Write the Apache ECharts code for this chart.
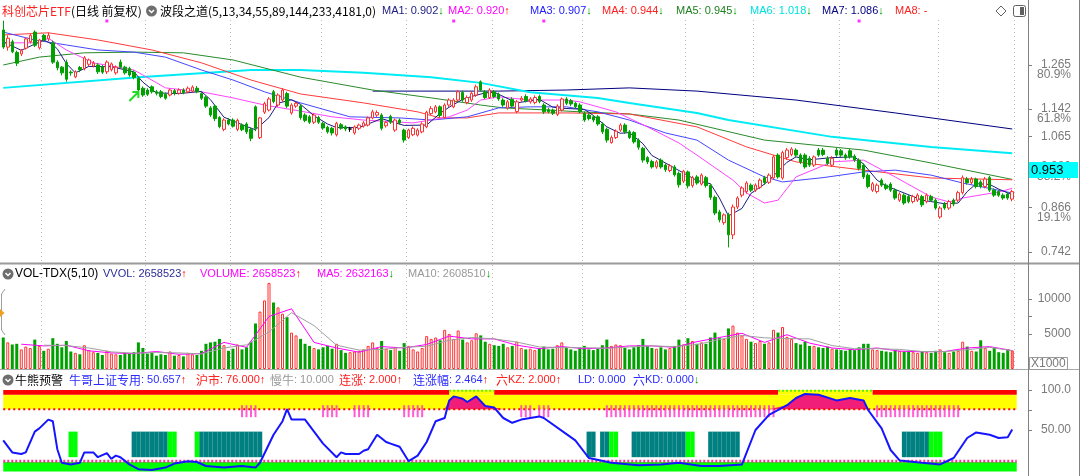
<!DOCTYPE html>
<html><head><meta charset="utf-8">
<script src="https://cdn.jsdelivr.net/npm/echarts@6.0.0/dist/echarts.min.js"></script>
<style>html,body{margin:0;padding:0;background:#fff}#c{width:1080px;height:476px}</style>
</head><body><div id="c"></div><script>
// ---------------- DATA ----------------
const ohlc = [
[1.363,1.315,1.310,1.389],[1.315,1.340,1.305,1.348],[1.330,1.302,1.298,1.336],[1.300,1.270,1.262,1.305],[1.296,1.305,1.290,1.310],
[1.312,1.338,1.308,1.342],[1.330,1.348,1.325,1.352],[1.357,1.320,1.315,1.362],[1.313,1.335,1.308,1.338],[1.348,1.335,1.330,1.352],
[1.338,1.348,1.332,1.356],[1.327,1.273,1.268,1.333],[1.273,1.257,1.250,1.278],[1.259,1.243,1.236,1.262],[1.272,1.225,1.218,1.280],
[1.245,1.243,1.235,1.250],[1.232,1.246,1.228,1.250],[1.258,1.252,1.245,1.262],[1.255,1.285,1.250,1.290],[1.267,1.279,1.262,1.283],
[1.262,1.270,1.258,1.276],[1.265,1.246,1.240,1.270],[1.260,1.245,1.240,1.265],[1.246,1.273,1.240,1.278],[1.252,1.268,1.247,1.272],
[1.243,1.259,1.238,1.264],[1.273,1.259,1.255,1.280],[1.259,1.243,1.238,1.263],[1.255,1.237,1.232,1.260],[1.245,1.230,1.225,1.250],
[1.228,1.195,1.190,1.232],[1.200,1.181,1.176,1.205],[1.195,1.183,1.178,1.200],[1.204,1.190,1.185,1.208],[1.190,1.186,1.180,1.195],
[1.190,1.177,1.172,1.195],[1.183,1.172,1.168,1.188],[1.181,1.195,1.177,1.199],[1.193,1.186,1.180,1.198],[1.186,1.195,1.182,1.200],
[1.195,1.188,1.183,1.200],[1.190,1.200,1.186,1.205],[1.192,1.203,1.188,1.208],[1.200,1.190,1.186,1.206],[1.185,1.172,1.167,1.190],
[1.175,1.150,1.145,1.178],[1.145,1.125,1.120,1.150],[1.150,1.115,1.108,1.154],[1.118,1.093,1.088,1.122],[1.085,1.111,1.080,1.116],
[1.111,1.100,1.096,1.117],[1.111,1.094,1.090,1.116],[1.085,1.110,1.080,1.115],[1.097,1.084,1.080,1.102],[1.100,1.078,1.072,1.105],
[1.085,1.060,1.052,1.090],[1.148,1.088,1.080,1.152],[1.062,1.117,1.058,1.120],[1.133,1.157,1.128,1.162],[1.139,1.170,1.135,1.175],
[1.190,1.163,1.158,1.195],[1.153,1.181,1.148,1.186],[1.167,1.195,1.162,1.200],[1.185,1.150,1.145,1.190],[1.131,1.153,1.126,1.158],
[1.150,1.158,1.145,1.162],[1.150,1.118,1.112,1.155],[1.125,1.110,1.105,1.130],[1.120,1.105,1.100,1.125],[1.105,1.125,1.100,1.130],
[1.118,1.105,1.100,1.123],[1.102,1.089,1.084,1.106],[1.091,1.078,1.073,1.095],[1.088,1.075,1.068,1.092],[1.070,1.102,1.065,1.106],
[1.098,1.088,1.084,1.103],[1.092,1.086,1.080,1.096],[1.086,1.086,1.078,1.092],[1.075,1.092,1.070,1.096],[1.088,1.097,1.083,1.101],
[1.094,1.103,1.090,1.108],[1.097,1.117,1.093,1.121],[1.117,1.134,1.113,1.140],[1.125,1.132,1.120,1.138],[1.125,1.088,1.082,1.130],
[1.095,1.104,1.090,1.108],[1.121,1.105,1.100,1.126],[1.083,1.111,1.078,1.115],[1.111,1.103,1.098,1.116],[1.083,1.055,1.048,1.087],
[1.062,1.083,1.058,1.087],[1.070,1.088,1.066,1.093],[1.069,1.083,1.065,1.088],[1.078,1.100,1.074,1.105],[1.092,1.133,1.088,1.137],
[1.129,1.143,1.125,1.150],[1.134,1.148,1.130,1.153],[1.148,1.124,1.118,1.152],[1.118,1.153,1.114,1.158],[1.153,1.167,1.148,1.172],
[1.148,1.167,1.144,1.172],[1.167,1.190,1.162,1.195],[1.188,1.167,1.162,1.193],[1.160,1.174,1.155,1.180],[1.167,1.186,1.162,1.191],
[1.181,1.204,1.176,1.210],[1.218,1.195,1.190,1.222],[1.190,1.174,1.170,1.195],[1.174,1.195,1.170,1.200],[1.190,1.177,1.172,1.195],
[1.183,1.170,1.165,1.188],[1.167,1.153,1.148,1.172],[1.145,1.162,1.140,1.167],[1.169,1.150,1.145,1.175],[1.135,1.162,1.130,1.167],
[1.167,1.172,1.162,1.178],[1.177,1.165,1.160,1.183],[1.162,1.170,1.157,1.175],[1.160,1.174,1.155,1.180],[1.177,1.163,1.158,1.182],
[1.153,1.134,1.128,1.158],[1.140,1.134,1.130,1.145],[1.139,1.130,1.125,1.143],[1.127,1.150,1.122,1.155],[1.139,1.170,1.135,1.174],
[1.170,1.158,1.153,1.175],[1.165,1.156,1.150,1.170],[1.158,1.148,1.144,1.162],[1.153,1.134,1.130,1.158],[1.130,1.111,1.106,1.135],
[1.125,1.115,1.110,1.130],[1.120,1.111,1.105,1.125],[1.120,1.100,1.095,1.125],[1.100,1.078,1.072,1.105],[1.085,1.055,1.048,1.090],
[1.048,1.062,1.045,1.068],[1.062,1.080,1.058,1.085],[1.083,1.097,1.078,1.102],[1.097,1.078,1.072,1.102],[1.078,1.062,1.058,1.083],
[1.076,1.050,1.045,1.080],[1.055,1.035,1.028,1.060],[1.032,0.999,0.992,1.036],[1.006,0.994,0.988,1.010],[0.995,0.980,0.975,1.000],
[0.980,0.994,0.975,0.999],[0.999,0.980,0.975,1.004],[0.985,0.972,0.966,0.990],[0.970,0.983,0.965,0.988],[0.980,0.958,0.953,0.985],
[0.962,0.930,0.922,0.967],[0.940,0.968,0.935,0.972],[0.966,0.927,0.920,0.970],[0.928,0.950,0.922,0.955],[0.952,0.935,0.930,0.957],
[0.932,0.957,0.928,0.962],[0.950,0.928,0.922,0.955],[0.929,0.895,0.888,0.933],[0.895,0.851,0.845,0.900],[0.854,0.832,0.825,0.860],
[0.824,0.846,0.818,0.850],[0.846,0.790,0.755,0.852],[0.790,0.868,0.778,0.875],[0.868,0.893,0.862,0.898],[0.901,0.921,0.895,0.926],
[0.911,0.935,0.905,0.940],[0.929,0.915,0.910,0.934],[0.915,0.929,0.910,0.934],[0.923,0.943,0.918,0.948],[0.950,0.936,0.930,0.955],
[0.937,0.957,0.932,0.962],[0.949,1.008,0.945,1.013],[1.013,0.952,0.947,1.018],[0.949,1.020,0.944,1.025],[1.006,1.027,1.000,1.033],
[1.015,1.030,1.010,1.035],[1.027,1.013,1.008,1.032],[1.013,0.994,0.988,1.018],[1.013,0.980,0.975,1.018],[1.004,0.985,0.980,1.010],
[0.985,1.008,0.980,1.012],[1.027,1.013,1.008,1.033],[1.027,1.015,1.010,1.033],[1.004,0.990,0.985,1.010],[0.985,1.004,0.980,1.010],
[1.027,1.013,1.008,1.033],[1.025,1.013,1.008,1.030],[1.013,1.005,1.000,1.018],[1.025,1.008,1.003,1.030],[1.010,0.999,0.994,1.015],
[0.999,0.976,0.970,1.004],[0.985,0.952,0.946,0.990],[0.957,0.925,0.920,0.962],[0.915,0.933,0.910,0.938],[0.911,0.929,0.906,0.934],
[0.943,0.929,0.924,0.948],[0.929,0.920,0.915,0.934],[0.932,0.915,0.910,0.937],[0.915,0.893,0.888,0.920],[0.887,0.904,0.882,0.909],
[0.901,0.879,0.874,0.906],[0.897,0.883,0.878,0.902],[0.883,0.897,0.878,0.902],[0.887,0.901,0.882,0.906],[0.897,0.874,0.868,0.902],
[0.883,0.901,0.878,0.906],[0.897,0.887,0.882,0.902],[0.887,0.865,0.860,0.892],[0.840,0.865,0.835,0.870],[0.877,0.865,0.860,0.882],
[0.865,0.883,0.860,0.888],[0.887,0.876,0.870,0.892],[0.887,0.908,0.882,0.913],[0.908,0.950,0.903,0.956],[0.946,0.936,0.930,0.952],
[0.936,0.946,0.931,0.952],[0.946,0.925,0.920,0.950],[0.938,0.925,0.920,0.943],[0.925,0.946,0.920,0.952],[0.950,0.915,0.910,0.955],
[0.915,0.901,0.896,0.920],[0.911,0.901,0.896,0.916],[0.901,0.893,0.888,0.906],[0.904,0.893,0.888,0.909],[0.890,0.911,0.884,0.916]
];
const volume = [
4500,3800,3500,3600,2800,3200,3000,4200,3300,2600,2900,
4400,3600,3100,4000,2500,2300,2100,3400,2700,2400,2300,2000,2600,2200,2100,2000,2300,2200,2400,3800,
3000,2200,2400,1900,2100,2000,2500,1900,2000,1800,2300,2100,2000,2600,3600,3800,3900,4300,3400,2600,2900,3500,2800,3100,3900,
6500,8200,9800,12300,9500,8800,7900,7400,5200,4800,
4300,3600,3300,3000,2800,3100,3300,2900,3600,2700,2300,2400,2500,2600,2800,3300,3800,3000,4000,2900,2700,3100,2600,3700,3300,2800,2500,3000,4700,4300,
4500,4100,5600,5000,4300,5500,4200,3800,4100,5100,4800,3900,3600,3400,3300,3600,3100,3300,3900,3000,2800,2900,2700,3000,3200,
2800,2900,3400,3800,3100,2800,2600,3000,3300,2800,2700,2900,3400,4200,3300,3500,3400,3000,2800,3100,3400,4300,3300,3000,2900,3100,2800,3000,3300,4200,
3500,4400,4000,3600,3800,3600,4500,5200,4400,4300,5800,6200,5200,4800,4300,3900,3700,4000,3600,3800,
5600,5200,6000,4600,4300,3700,3500,3900,3300,3300,3100,3000,3200,2900,2800,2700,2600,2900,2700,3100,
3600,3600,2800,2700,2600,2500,2400,2700,2600,2500,2600,2400,2300,2500,2400,2300,2600,2800,2400,2300,2500,2600,3900,3200,2600,2500,4100,3000,2600,3000,2400,2300,2800,2659
];
// price moving averages: [candle index, value]
const ma1 = [[0,1.330],[4,1.306],[9,1.335],[11,1.322],[12,1.310],[14,1.269],[16,1.243],[19,1.261],[24,1.260],[29,1.246],[31,1.217],[34,1.187],[39,1.185],[44,1.191],[46,1.168],[49,1.119],[54,1.093],[56,1.084],[59,1.118],[61,1.158],[64,1.168],[66,1.155],[69,1.123],[72,1.100],[74,1.090],[79,1.090],[84,1.115],[89,1.096],[94,1.097],[97,1.130],[99,1.147],[102,1.169],[104,1.177],[107,1.187],[109,1.189],[114,1.159],[119,1.169],[122,1.147],[124,1.144],[129,1.141],[131,1.124],[134,1.092],[137,1.074],[139,1.076],[142,1.045],[144,1.012],[149,0.977],[154,0.942],[157,0.933],[159,0.893],[161,0.843],[164,0.864],[166,0.906],[169,0.932],[171,0.955],[174,0.993],[176,1.008],[179,1.000],[184,1.006],[189,1.008],[191,0.988],[194,0.943],[196,0.927],[199,0.912],[204,0.887],[209,0.877],[212,0.879],[214,0.911],[216,0.933],[219,0.931],[221,0.918],[224,0.902]];
const ma2 = [[0,1.327],[8,1.327],[10,1.340],[14,1.307],[20,1.271],[29,1.251],[31,1.237],[36,1.201],[44,1.190],[51,1.173],[58,1.153],[66,1.136],[73,1.120],[80,1.111],[91,1.103],[99,1.120],[103,1.139],[106,1.167],[110,1.176],[117,1.167],[125,1.167],[128,1.162],[136,1.134],[143,1.092],[150,1.047],[154,1.013],[162,0.943],[165,0.907],[169,0.879],[172,0.887],[176,0.952],[184,0.994],[191,0.999],[198,0.952],[206,0.896],[210,0.882],[213,0.893],[221,0.910],[224,0.920]];
const ma3 = [[0,1.357],[7,1.335],[14,1.321],[21,1.307],[29,1.301],[36,1.287],[44,1.251],[51,1.223],[58,1.190],[66,1.159],[77,1.120],[88,1.117],[95,1.111],[103,1.120],[110,1.145],[117,1.148],[125,1.148],[132,1.134],[139,1.111],[147,1.075],[154,1.055],[161,0.999],[169,0.952],[173,0.938],[182,0.950],[191,0.966],[198,0.971],[206,0.957],[213,0.935],[224,0.907]];
const ma4 = [[0,1.349],[10,1.355],[21,1.335],[33,1.307],[44,1.271],[55,1.223],[66,1.184],[80,1.159],[92,1.134],[97,1.117],[103,1.117],[110,1.131],[125,1.131],[139,1.128],[154,1.092],[165,1.036],[176,0.994],[191,0.971],[206,0.949],[224,0.944]];
const ma5 = [[0,1.265],[8,1.287],[18,1.299],[29,1.301],[40,1.299],[51,1.279],[66,1.231],[82,1.195],[95,1.173],[106,1.153],[111,1.145],[121,1.139],[128,1.134],[139,1.128],[150,1.111],[169,1.055],[191,1.027],[206,0.991],[224,0.945]];
const ma6 = [[0,1.201],[30,1.231],[55,1.251],[66,1.251],[80,1.243],[95,1.231],[106,1.215],[117,1.189],[132,1.173],[139,1.159],[154,1.131],[161,1.111],[184,1.064],[206,1.036],[224,1.018]];
const ma7 = [[82,1.192],[110,1.192],[125,1.195],[139,1.201],[154,1.192],[176,1.167],[198,1.131],[224,1.086]];
// volume moving averages (x1000)
const vma5 = [[4,3540],[9,3300],[14,3400],[19,2600],[24,2300],[29,2200],[34,2500],[39,2100],[44,2200],[49,3800],[54,3100],[59,7500],[64,8600],[69,3800],[74,3000],[79,2400],[84,3200],[89,3000],[94,3500],[99,4700],[104,4300],[109,4300],[114,3400],[119,2900],[124,3200],[129,2900],[134,3000],[139,3300],[144,3300],[149,3100],[154,3900],[159,4500],[164,5100],[169,3800],[174,4900],[179,3700],[184,3000],[189,2750],[194,3000],[199,2550],[204,2450],[209,2500],[214,3000],[219,3200],[224,2632]];
const vma10 = [[9,3400],[14,3350],[19,3000],[24,2450],[29,2250],[34,2350],[39,2300],[44,2150],[49,3000],[54,3450],[59,5300],[64,8050],[69,6200],[74,3400],[79,2700],[84,2800],[89,3100],[94,3250],[99,4100],[104,4500],[109,4300],[114,3850],[119,3150],[124,3050],[129,3050],[134,2950],[139,3150],[144,3300],[149,3200],[154,3500],[159,4200],[164,4800],[169,4450],[174,4350],[179,4300],[184,3350],[189,2900],[194,2900],[199,2800],[204,2500],[209,2480],[214,2750],[219,3100],[224,2608]];
// indicator line (牛哥上证专用)
const bull = [[0,37],[2,22],[4,20],[5,22],[7,48],[8,52],[10,63],[11,61],[12,26],[13,9],[15,7],[17,9],[18,22],[20,22],[21,16],[23,21],[24,14],[25,18],[26,16],[28,7],[30,1],[33,0],[36,3],[38,8],[41,11],[43,10],[45,5],[49,3],[53,5],[56,3],[57,9],[60,44],[62,61],[63,76],[64,63],[67,63],[69,48],[71,33],[74,16],[75,22],[76,20],[79,20],[80,24],[81,26],[83,44],[85,35],[86,33],[88,29],[90,11],[92,18],[94,35],[96,61],[98,65],[99,87],[100,92],[102,89],[103,85],[105,92],[107,80],[109,78],[111,65],[113,59],[115,63],[117,65],[119,67],[120,65],[127,37],[130,15],[135,9],[141,6],[146,7],[150,9],[155,5],[159,5],[164,7],[167,50],[170,69],[174,81],[176,90],[178,95],[181,94],[185,87],[188,90],[191,87],[192,75],[195,52],[197,25],[199,12],[204,9],[208,7],[211,15],[214,40],[216,47],[219,44],[221,40],[223,41],[224,50.657]];
const bullZones = [[99,109],[172,193]];
const tealRanges = [[29,36],[44,52],[53,57],[130,131],[133,134],[140,151],[157,163],[200,205]];
const limeRanges = [[15,16],[37,38],[43,43],[135,136],[152,153],[206,208]];
const pinkTickRanges = [[53,56],[71,74],[78,81],[89,93],[115,117],[119,121],[134,171],[194,212]];
const monthStarts = [9,32,51,71,90,109,129,152,167,186,208,225];
const topDots = [23,100,120,190];
const priceTicks = [1.265,1.142,1.065,0.980,0.866,0.742];
const pricePct = ['80.9%','61.8%','','38.2%','19.1%',''];
const volTicks = [5000,10000];
const indTicks = [50,100];
const NCAT = 228;
// -------------------------------------
const cats = []; for (let i = 0; i < NCAT; i++) cats.push(String(i));
const GREEN = '#00a000', RED = '#ff3030';
const FONT = '"Liberation Sans","Noto Sans CJK SC",sans-serif';

function xAx(g, grid){
  return {type:'category', gridIndex:g, data:cats, boundaryGap:true,
    axisLine:{show:false}, axisTick:{show:false}, axisLabel:{show:false},
    splitLine:{show:grid, interval:(i)=>monthStarts.indexOf(i)>=0, lineStyle:{color:'#bdbdbd', type:[1,3], width:1}}};
}
function yAx(g, min, max, vals, fmt, minor){
  return {type:'value', gridIndex:g, position:'right', min:min, max:max,
    axisLine:{show:true, lineStyle:{color:'#808080'}},
    axisTick:{show:true, length:4, customValues: minor || vals, lineStyle:{color:'#808080'}},
    axisLabel:{show:true, customValues:vals, formatter:fmt, color:'#7a7a7a', fontSize:12, fontFamily:FONT, align:'right', margin:43, lineHeight:10},
    splitLine:{show:false}};
}
const lastIdx = volume.length - 1;
const volData = volume.map((v,i)=>{
  const up = ohlc[i][1] >= ohlc[i][0];
  const st = up ? {color: i===lastIdx ? '#ff9090' : '#ffffff', borderColor:RED, borderWidth:1} : {color:GREEN};
  return {value:v, itemStyle: st};
});
function inRanges(ranges, i){ return ranges.some(r=>i>=r[0]&&i<=r[1]); }
const tealBase = cats.map((c,i)=> (inRanges(tealRanges,i)||inRanges(limeRanges,i)) ? 16 : '-');
const tealBar = cats.map((c,i)=> inRanges(tealRanges,i) && !inRanges(limeRanges,i) ? 32 : '-');
const limeBar = cats.map((c,i)=> inRanges(limeRanges,i) ? 32 : '-');
const pinkFill = bull.map(p=>[p[0], Math.max(p[1],76)]);
const pinkTicks = cats.map((c,i)=>i).filter(i=>inRanges(pinkTickRanges,i));

const redAreas = [];
let start = 0;
bullZones.forEach(z=>{ redAreas.push([{xAxis:String(start), yAxis:94},{xAxis:String(z[0]), yAxis:100}]); start = z[1]; });
redAreas.push([{xAxis:String(start), yAxis:94},{xAxis:'225', yAxis:100}]);
const bandAreas = [
  [{xAxis:'0', yAxis:76, itemStyle:{color:'#ffff00'}},{xAxis:'225', yAxis:94}],
  ...bullZones.map(z=>[{xAxis:String(z[0]), yAxis:94, itemStyle:{color:'#ffff00'}},{xAxis:String(z[1]), yAxis:100}]),
  ...redAreas.map(a=>[{...a[0], itemStyle:{color:'#ff0000'}}, a[1]]),
  [{xAxis:'0', yAxis:-2, itemStyle:{color:'#00ff00'}},{xAxis:'225', yAxis:10}]
];
const bullTop = [];
bullZones.forEach(z=>{ bullTop.push([z[0],99]); bullTop.push([z[1],99]); bullTop.push([z[1]+1,'-']); });

const chart = echarts.init(document.getElementById('c'), null, {renderer:'canvas'});
const lineS = (name, data, color, w, xi, yi, extra) => Object.assign({name, type:'line', xAxisIndex:xi||0, yAxisIndex:yi||0, data,
  symbol:'none', smooth:false, silent:true, animation:false, lineStyle:{color, width:w||1}, itemStyle:{color}, z:3}, extra||{});

const option = {
  animation:false,
  backgroundColor:'#ffffff',
  grid:[
    {left:1, right:52, top:20, height:242},
    {left:1, right:52, top:265, height:104},
    {left:1, right:52, top:372, height:104}
  ],
  xAxis:[xAx(0,true), xAx(1,true), xAx(2,false)],
  yAxis:[
    yAx(0, 0.7141, 1.3908, priceTicks, (v)=>{ const k = priceTicks.indexOf(v); const s = v.toFixed(3); return (k>=0 && pricePct[k]) ? ' \n'+s+'\n'+pricePct[k] : s; }),
    yAx(1, 0, 14857, volTicks, (v)=>String(v), [5000,7500,10000]),
    yAx(2, -7.5, 122.5, indTicks, (v)=> v===100 ? '100.0' : '50.00', [50,75,100])
  ],
  series:[
    {type:'candlestick', xAxisIndex:0, yAxisIndex:0, data:ohlc, barWidth:3, silent:true, z:4,
      itemStyle:{color:'#ffffff', color0:GREEN, borderColor:RED, borderColor0:GREEN, borderColorDoji:'#000000', borderWidth:1},
      markPoint:{silent:true, symbolSize:0, animation:false, data:[
        {coord:['0',1.389], symbol:'none', label:{show:true, position:'right', distance:0, offset:[0,5], formatter:'↖1.389', color:'#404040', fontSize:12, fontFamily:FONT}},
        {coord:['161',0.755], symbol:'none', label:{show:true, position:'right', distance:2, offset:[0,1], formatter:'←0.755', color:'#404040', fontSize:12, fontFamily:FONT}},
        {coord:['29',1.177], symbol:'path://M0 10 L9 1 M3 1 L9 1 L9 7', symbolSize:[9,9], itemStyle:{color:'rgba(0,0,0,0)', borderColor:'#22dd22', borderWidth:2}, label:{show:false}}
      ]}},
    lineS('MA7', ma7, '#000080', 1),
    lineS('MA6', ma6, '#00ecf4', 2),
    lineS('MA5', ma5, '#2a8a2a', 1),
    lineS('MA4', ma4, '#ff3b3b', 1),
    lineS('MA3', ma3, '#4646ff', 1),
    lineS('MA2', ma2, '#ff44ff', 1),
    lineS('MA1', ma1, '#1c1c80', 1),
    {type:'scatter', xAxisIndex:0, yAxisIndex:0, data:topDots.map(i=>[String(i),1.388]), symbol:'rect', symbolSize:3, itemStyle:{color:'#ff00ff'}, silent:true, z:5},
    {type:'bar', xAxisIndex:1, yAxisIndex:1, data:volData, barWidth:3, silent:true, z:2},
    lineS('VMA5', vma5, '#ff00ff', 1, 1, 1),
    lineS('VMA10', vma10, '#a0a0a0', 1, 1, 1),
    {type:'line', xAxisIndex:2, yAxisIndex:2, data:[], silent:true, z:1,
      markArea:{silent:true, animation:false, data:bandAreas}},
    {type:'bar', xAxisIndex:2, yAxisIndex:2, stack:'tb', data:tealBase, barWidth:'100%', itemStyle:{color:'rgba(0,0,0,0)'}, silent:true, z:2},
    {type:'bar', xAxisIndex:2, yAxisIndex:2, stack:'tb', data:tealBar, barWidth:'100%', itemStyle:{color:'#008080'}, silent:true, z:2},
    {type:'bar', xAxisIndex:2, yAxisIndex:2, stack:'tb', data:limeBar, barWidth:'100%', itemStyle:{color:'#00ff00'}, silent:true, z:2},
    lineS('pinkfill', pinkFill, '#f01e78', 0, 2, 2, {areaStyle:{color:'#f01e78', origin:76, opacity:1}, lineStyle:{width:0}, z:2}),
    lineS('bullTop', bullTop, '#66ff33', 2, 2, 2, {lineStyle:{color:'#55ee22', width:2, type:[2,2]}, z:2, connectNulls:false}),
    lineS('hu', [['0',76],['225',76]], '#ff0000', 2, 2, 2, {lineStyle:{color:'#ff0000', width:2, type:[2,3]}, z:2}),
    lineS('slow', [['0',11],['225',11]], '#ff3399', 3, 2, 2, {lineStyle:{color:'#ff3399', width:3, type:[2,2]}, z:2}),
    {type:'scatter', xAxisIndex:2, yAxisIndex:2, data:pinkTicks.map(i=>[String(i),73.5]), symbol:'rect', symbolSize:[2,12], itemStyle:{color:'#ff33cc'}, silent:true, z:3},
    lineS('bull', bull, '#1515ff', 2, 2, 2, {z:5})
  ]
};
chart.setOption(option);

// headers and frame
const LAT = (s) => s+'px "Liberation Sans",sans-serif';
const CJK = (s) => s+'px "Noto Sans CJK SC","Liberation Sans",sans-serif';
const gt = (x, y, parts) => {
  let text = '', rich = {};
  parts.forEach((p,k)=>{ const key='p'+k; text += '{'+key+'|'+p[0]+'}'; rich[key] = {fill:p[1], font:p[2]}; });
  return {type:'text', x:x, y:y, silent:true, style:{text, rich, verticalAlign:'middle', fill:'#000', font:LAT(11)}, z:100};
};
const DN = ['↓','#00a000','bold '+LAT(11)], UP = ['↑','#ff0000','bold '+LAT(11)];
const icon = (cx, cy) => ({type:'group', silent:true, children:[
  {type:'circle', shape:{cx, cy, r:5.5}, style:{fill:'#6e6e6e'}},
  {type:'polyline', shape:{points:[[cx-2.5,cy-1],[cx,cy+1.5],[cx+2.5,cy-1]]}, style:{stroke:'#fff', lineWidth:1.5, fill:null}}
]});
chart.setOption({graphic:[
  {type:'line', shape:{x1:0,y1:263.5,x2:1080,y2:263.5}, style:{stroke:'#9a9a9a', lineWidth:2}, silent:true},
  {type:'line', shape:{x1:0,y1:369.5,x2:1080,y2:369.5}, style:{stroke:'#a8a8a8', lineWidth:1}, silent:true},
  {type:'line', shape:{x1:1028.5,y1:0,x2:1028.5,y2:476}, style:{stroke:'#808080', lineWidth:1}, silent:true},
  {type:'line', shape:{x1:1079.5,y1:0,x2:1079.5,y2:476}, style:{stroke:'#808080', lineWidth:1}, silent:true},
  {type:'polyline', shape:{points:[[5,289],[1.5,294],[1.5,330],[5,335]]}, style:{stroke:'#a0a0a0', lineWidth:1, fill:null}, silent:true},
  {type:'polygon', shape:{points:[[0,309],[4.5,313],[0,317]]}, style:{fill:'#f0a020'}, silent:true},
  gt(2, 11, [['科创芯片ETF','#ff2020',CJK(12)],['(日线 前复权)','#000000',CJK(12)]]),
  icon(151.5, 11),
  gt(160, 11, [['波段之道(5,13,34,55,89,144,233,4181,0)','#000000',CJK(12)]]),
  gt(382, 11, [['MA1: 0.902','#1c1c80',LAT(11)],DN]),
  gt(448, 11, [['MA2: 0.920','#ff00ff',LAT(11)],UP]),
  gt(530, 11, [['MA3: 0.907','#2020ff',LAT(11)],DN]),
  gt(602, 11, [['MA4: 0.944','#ff2020',LAT(11)],DN]),
  gt(676, 11, [['MA5: 0.945','#208020',LAT(11)],DN]),
  gt(750, 11, [['MA6: 1.018','#00e0e0',LAT(11)],DN]),
  gt(822, 11, [['MA7: 1.086','#000080',LAT(11)],DN]),
  gt(895, 11, [['MA8: -','#ff2020',LAT(11)]]),
  {type:'polygon', shape:{points:[[1001,6],[1006,11],[1001,16],[996,11]]}, style:{fill:null, stroke:'#606060', lineWidth:1}, silent:true},
  {type:'rect', shape:{x:1013.5,y:5.5,width:12,height:11, r:2}, style:{fill:null, stroke:'#606060', lineWidth:1}, silent:true},
  {type:'rect', shape:{x:1020,y:7,width:4,height:8}, style:{fill:'#606060'}, silent:true},
  icon(8, 274),
  gt(15, 274, [['VOL-TDX(5,10)','#000000',LAT(12)]]),
  gt(103, 274, [['VVOL: 2658523','#2b2b9a',LAT(11)],UP]),
  gt(200, 274, [['VOLUME: 2658523','#ff00ff',LAT(11)],UP]),
  gt(317, 274, [['MA5: 2632163','#ff00ff',LAT(11)],DN]),
  gt(408, 274, [['MA10: 2608510','#999999',LAT(11)],DN]),
  icon(8, 380),
  gt(15, 380, [['牛熊预警','#000000',CJK(12)]]),
  gt(69, 380, [['牛哥上证专用','#2b2bff',CJK(12)],[': 50.657','#2b2bff',LAT(11)],UP]),
  gt(196, 380, [['沪市','#ff2020',CJK(12)],[': 76.000','#ff2020',LAT(11)],UP]),
  gt(270, 380, [['慢牛','#999999',CJK(12)],[': 10.000','#999999',LAT(11)]]),
  gt(339, 380, [['连涨','#ff2020',CJK(12)],[': 2.000','#ff2020',LAT(11)],UP]),
  gt(413, 380, [['连涨幅','#2b2bff',CJK(12)],[': 2.464','#2b2bff',LAT(11)],UP]),
  gt(496, 380, [['六','#ff2020',CJK(12)],['KZ: 2.000','#ff2020',LAT(11)],UP]),
  gt(578, 380, [['LD: 0.000','#2b2bff',LAT(11)]]),
  gt(633, 380, [['六','#2b2bff',CJK(12)],['KD: 0.000','#2b2bff',LAT(11)],DN]),
  {type:'rect', shape:{x:1029,y:162,width:49,height:16}, style:{fill:'#00ffff'}, silent:true, z:100},
  {type:'text', x:1031, y:170.5, silent:true, z:101, style:{text:'0.953', fill:'#000', font:'13px "Liberation Sans",sans-serif', verticalAlign:'middle'}},
  {type:'rect', shape:{x:1029.5,y:357.5,width:38,height:12}, style:{fill:'#fff', stroke:'#9a9a9a', lineWidth:1}, silent:true, z:100},
  {type:'text', x:1031, y:364, silent:true, z:101, style:{text:'X1000', fill:'#7a7a7a', font:'12px "Liberation Sans",sans-serif', verticalAlign:'middle'}}
]});
</script></body></html>
